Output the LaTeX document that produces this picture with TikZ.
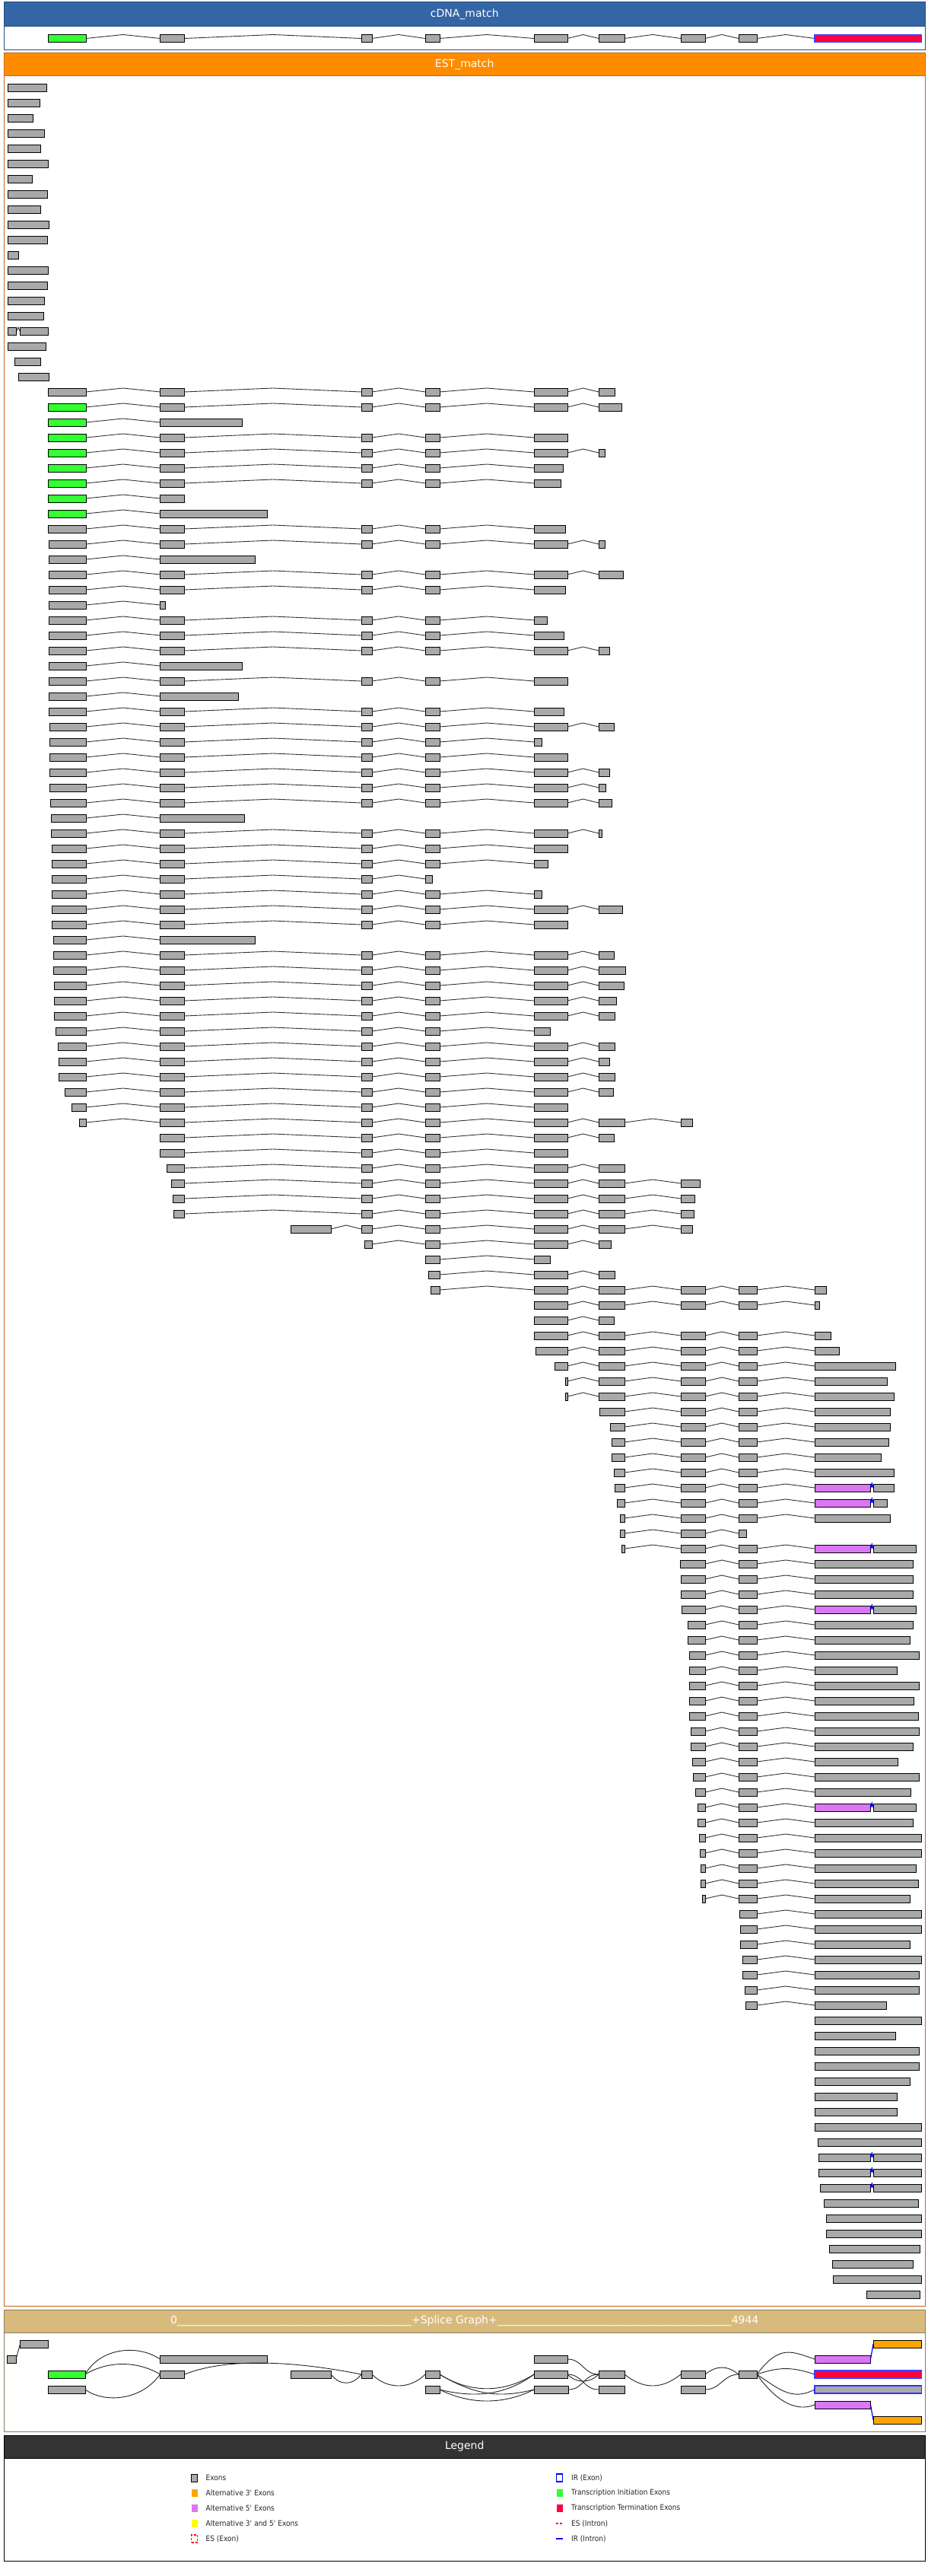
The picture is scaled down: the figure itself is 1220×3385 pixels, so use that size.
\documentclass[tikz,border=0pt]{standalone}
\usepackage{fontspec}
\setmainfont{DejaVu Sans}
\newfontfamily\legfont{DejaVu Sans}[FakeStretch=0.9]
\usetikzlibrary{calc}
\definecolor{exg}{HTML}{A9A9A9}
\definecolor{gsp}{HTML}{A9A9A9}
\definecolor{tie}{HTML}{33FF33}
\definecolor{tte}{HTML}{FF0040}
\definecolor{vio}{HTML}{DA77F2}
\definecolor{altthree}{HTML}{FFA500}
\definecolor{yel}{HTML}{FFFF00}
\definecolor{cdnahead}{HTML}{3465A4}
\definecolor{cdnaline}{HTML}{234F85}
\definecolor{esthead}{HTML}{FF8C00}
\definecolor{estline}{HTML}{C8651B}
\definecolor{sghead}{HTML}{D8BB7C}
\definecolor{sgline}{HTML}{8B7B66}
\definecolor{lghead}{HTML}{333333}
\definecolor{irblue}{HTML}{0000EE}
\def\vioname{vio}
\def\gspname{gsp}
\tikzset{
  exon/.style={rectangle, draw=black, line width=0.9pt, inner sep=0pt, outer sep=0pt, minimum height=10pt, anchor=west},
  intron/.style={draw=black!80, line width=0.9pt},
  irline/.style={draw=irblue, line width=1.8pt},
  sgcurve/.style={draw=black!85, line width=0.9pt},
  headbar/.style={rectangle, inner sep=0pt, minimum width=1211.5pt, text=white, font=\fontsize{14}{16}\selectfont, line width=1pt},
  panelbody/.style={rectangle, inner sep=0pt, minimum width=1211.5pt, fill=white, line width=1pt},
  legtext/.style={anchor=west, inner sep=0pt, font=\legfont\fontsize{10}{12}\selectfont, text=black!85},
  swatch/.style={rectangle, inner sep=0pt, minimum width=8pt, minimum height=10pt}
}
\newcommand\erow[3]{%
  \pgfmathsetmacro\ry{#2}%
  \foreach \xa/\xb/\xc [count=\k] in {#3} {%
    \pgfmathsetmacro\w{\xb-\xa}%
    \node[exon, fill=\xc, minimum width=\w pt] (#1e\k) at (\xa,\ry) {};%
    \ifnum\k>1
      \pgfmathtruncatemacro\km{\k-1}%
      \def\isblue{0}%
      \ifx\prevc\vioname\def\isblue{1}\fi
      \ifx\prevc\gspname\def\isblue{1}\fi
      \ifnum\isblue=1
        \draw[irline] (#1e\km.east) -- ($(#1e\km.east)!0.5!(#1e\k.west)+(0,-5)$) -- (#1e\k.west);%
      \else
        \draw[intron] (#1e\km.east) -- ($(#1e\km.east)!0.5!(#1e\k.west)+(0,-5)$) -- (#1e\k.west);%
      \fi
    \fi
    \xdef\prevc{\xc}%
  }%
}
\newcommand\er[2]{\erow{r#1}{115+20*#1}{#2}}
\begin{document}
\begin{tikzpicture}[x=1pt,y=-1pt]
\useasboundingbox (0,0) rectangle (1220,3385);
\fill[white] (0,0) rectangle (1220,3385);
% ---------- panels ----------
\node[panelbody, draw=cdnaline, minimum height=31pt] (cdnaB) at (610.75,50.5) {};
\node[headbar, fill=cdnahead, draw=cdnaline, minimum height=32pt] (cdnaH) at (610.75,19) {cDNA\_match};
\node[panelbody, draw=estline, minimum height=2930pt] (estB) at (610.75,1565) {};
\node[headbar, fill=esthead, draw=estline, minimum height=30pt] (estH) at (610.75,85) {EST\_match};
\node[panelbody, draw=sgline, minimum height=130pt] (sgB) at (610.75,3130) {};
\node[headbar, fill=sghead, draw=sgline, minimum height=30pt] (sgH) at (610.75,3050) {0\_\_\_\_\_\_\_\_\_\_\_\_\_\_\_\_\_\_\_\_\_\_\_\_\_\_\_\_\_\_\_\_\_\_\_\_\_\_\_\_\_\_\_\_+Splice Graph+\_\_\_\_\_\_\_\_\_\_\_\_\_\_\_\_\_\_\_\_\_\_\_\_\_\_\_\_\_\_\_\_\_\_\_\_\_\_\_\_\_\_\_\_4944};
\node[panelbody, draw=black, minimum height=135pt] (lgB) at (610.75,3297.5) {};
\node[headbar, fill=lghead, draw=black, minimum height=30pt] (lgH) at (610.75,3215) {Legend};
% ---------- cDNA ----------
\erow{c}{50.5}{63/113/tie,210.5/242.5/exg,475/489/exg,559/578/exg,702/746/exg,787/821/exg,895/927/exg,971/995/exg,1071/1211.5/tte}
\draw[draw=blue!75, line width=1.6pt] (ce9.south west) rectangle (ce9.north east);
% ---------- EST rows ----------
\er{0}{10/61.5/exg}
\er{1}{10/52.5/exg}
\er{2}{10/43.6/exg}
\er{3}{10/58.7/exg}
\er{4}{10/53.3/exg}
\er{5}{10/63.8/exg}
\er{6}{10/42.8/exg}
\er{7}{10/62.6/exg}
\er{8}{10/53.7/exg}
\er{9}{10/64.6/exg}
\er{10}{10/62.6/exg}
\er{11}{10/24.5/exg}
\er{12}{10/63.8/exg}
\er{13}{10/62.6/exg}
\er{14}{10/58.7/exg}
\er{15}{10/57.6/exg}
\er{16}{10/21.8/exg,26/63.8/exg}
\er{17}{10/60.7/exg}
\er{18}{19.8/53.7/exg}
\er{19}{24/64.6/exg}
\er{20}{63/113/exg,210.5/242.5/exg,475/489/exg,559/578/exg,702/746/exg,787/808/exg}
\er{21}{63/113/tie,210.5/242.5/exg,475/489/exg,559/578/exg,702/746/exg,787/817/exg}
\er{22}{63/113/tie,210.5/318/exg}
\er{23}{63/113/tie,210.5/242.5/exg,475/489/exg,559/578/exg,702/746/exg}
\er{24}{63/113/tie,210.5/242.5/exg,475/489/exg,559/578/exg,702/746/exg,787/795/exg}
\er{25}{63/113/tie,210.5/242.5/exg,475/489/exg,559/578/exg,702/740/exg}
\er{26}{63/113/tie,210.5/242.5/exg,475/489/exg,559/578/exg,702/737.5/exg}
\er{27}{63/113/tie,210.5/242.5/exg}
\er{28}{63/113/tie,210.5/351.6/exg}
\er{29}{63/113/exg,210.5/242.5/exg,475/489/exg,559/578/exg,702/743/exg}
\er{30}{64/113/exg,210.5/242.5/exg,475/489/exg,559/578/exg,702/746/exg,787/795/exg}
\er{31}{64/113/exg,210.5/335/exg}
\er{32}{64/113/exg,210.5/242.5/exg,475/489/exg,559/578/exg,702/746/exg,787/819/exg}
\er{33}{64/113/exg,210.5/242.5/exg,475/489/exg,559/578/exg,702/743/exg}
\er{34}{64/113/exg,210.5/217.5/exg}
\er{35}{64/113/exg,210.5/242.5/exg,475/489/exg,559/578/exg,702/719/exg}
\er{36}{64/113/exg,210.5/242.5/exg,475/489/exg,559/578/exg,702/741/exg}
\er{37}{64/113/exg,210.5/242.5/exg,475/489/exg,559/578/exg,702/746/exg,787/801/exg}
\er{38}{64/113/exg,210.5/318/exg}
\er{39}{64/113/exg,210.5/242.5/exg,475/489/exg,559/578/exg,702/746/exg}
\er{40}{64/113/exg,210.5/313/exg}
\er{41}{64/113/exg,210.5/242.5/exg,475/489/exg,559/578/exg,702/741/exg}
\er{42}{65.5/113/exg,210.5/242.5/exg,475/489/exg,559/578/exg,702/746/exg,787/807/exg}
\er{43}{65.5/113/exg,210.5/242.5/exg,475/489/exg,559/578/exg,702/712/exg}
\er{44}{65.5/113/exg,210.5/242.5/exg,475/489/exg,559/578/exg,702/746/exg}
\er{45}{65.5/113/exg,210.5/242.5/exg,475/489/exg,559/578/exg,702/746/exg,787/801/exg}
\er{46}{65.5/113/exg,210.5/242.5/exg,475/489/exg,559/578/exg,702/746/exg,787/796/exg}
\er{47}{66/113/exg,210.5/242.5/exg,475/489/exg,559/578/exg,702/746/exg,787/804/exg}
\er{48}{67/113/exg,210.5/321/exg}
\er{49}{67/113/exg,210.5/242.5/exg,475/489/exg,559/578/exg,702/746/exg,787/791/exg}
\er{50}{68/113/exg,210.5/242.5/exg,475/489/exg,559/578/exg,702/746/exg}
\er{51}{68/113/exg,210.5/242.5/exg,475/489/exg,559/578/exg,702/720/exg}
\er{52}{68/113/exg,210.5/242.5/exg,475/489/exg,559/568/exg}
\er{53}{68/113/exg,210.5/242.5/exg,475/489/exg,559/578/exg,702/712/exg}
\er{54}{68/113/exg,210.5/242.5/exg,475/489/exg,559/578/exg,702/746/exg,787/818/exg}
\er{55}{68.6/113/exg,210.5/242.5/exg,475/489/exg,559/578/exg,702/746/exg}
\er{56}{70/113/exg,210.5/335/exg}
\er{57}{70/113/exg,210.5/242.5/exg,475/489/exg,559/578/exg,702/746/exg,787/807/exg}
\er{58}{70/113/exg,210.5/242.5/exg,475/489/exg,559/578/exg,702/746/exg,787/822/exg}
\er{59}{71/113/exg,210.5/242.5/exg,475/489/exg,559/578/exg,702/746/exg,787/820/exg}
\er{60}{71/113/exg,210.5/242.5/exg,475/489/exg,559/578/exg,702/746/exg,787/810/exg}
\er{61}{71/113/exg,210.5/242.5/exg,475/489/exg,559/578/exg,702/746/exg,787/808/exg}
\er{62}{73/113/exg,210.5/242.5/exg,475/489/exg,559/578/exg,702/723/exg}
\er{63}{76/113/exg,210.5/242.5/exg,475/489/exg,559/578/exg,702/746/exg,787/808/exg}
\er{64}{77/113/exg,210.5/242.5/exg,475/489/exg,559/578/exg,702/746/exg,787/801/exg}
\er{65}{77/113/exg,210.5/242.5/exg,475/489/exg,559/578/exg,702/746/exg,787/808/exg}
\er{66}{85/113/exg,210.5/242.5/exg,475/489/exg,559/578/exg,702/746/exg,787/806/exg}
\er{67}{94/113/exg,210.5/242.5/exg,475/489/exg,559/578/exg,702/746/exg}
\er{68}{104.5/113/exg,210.5/242.5/exg,475/489/exg,559/578/exg,702/746/exg,787/821/exg,895/910/exg}
\er{69}{210.5/242.5/exg,475/489/exg,559/578/exg,702/746/exg,787/807/exg}
\er{70}{210.5/242.5/exg,475/489/exg,559/578/exg,702/746/exg}
\er{71}{219/242.5/exg,475/489/exg,559/578/exg,702/746/exg,787/821/exg}
\er{72}{225/242.5/exg,475/489/exg,559/578/exg,702/746/exg,787/821/exg,895/920/exg}
\er{73}{227/242.5/exg,475/489/exg,559/578/exg,702/746/exg,787/821/exg,895/913/exg}
\er{74}{228.5/242.5/exg,475/489/exg,559/578/exg,702/746/exg,787/821/exg,895/912/exg}
\er{75}{382/435/exg,475/489/exg,559/578/exg,702/746/exg,787/821/exg,895/910/exg}
\er{76}{479/489/exg,559/578/exg,702/746/exg,787/803/exg}
\er{77}{559/578/exg,702/723/exg}
\er{78}{563/578/exg,702/746/exg,787/808/exg}
\er{79}{566/578/exg,702/746/exg,787/821/exg,895/927/exg,971/995/exg,1071/1086/exg}
\er{80}{702/746/exg,787/821/exg,895/927/exg,971/995/exg,1071/1077/exg}
\er{81}{702/746/exg,787/807/exg}
\er{82}{702/746/exg,787/821/exg,895/927/exg,971/995/exg,1071/1092/exg}
\er{83}{704/746/exg,787/821/exg,895/927/exg,971/995/exg,1071/1103/exg}
\er{84}{729/746/exg,787/821/exg,895/927/exg,971/995/exg,1071/1177/exg}
\er{85}{743/746/exg,787/821/exg,895/927/exg,971/995/exg,1071/1166/exg}
\er{86}{743/746/exg,787/821/exg,895/927/exg,971/995/exg,1071/1175/exg}
\er{87}{788/821/exg,895/927/exg,971/995/exg,1071/1170/exg}
\er{88}{802/821/exg,895/927/exg,971/995/exg,1071/1170/exg}
\er{89}{804/821/exg,895/927/exg,971/995/exg,1071/1168/exg}
\er{90}{804.5/821/exg,895/927/exg,971/995/exg,1071/1158/exg}
\er{91}{807.7/821/exg,895/927/exg,971/995/exg,1071/1175/exg}
\er{92}{808.5/821/exg,895/927/exg,971/995/exg,1071/1144.5/vio,1148/1175/exg}
\er{93}{811.6/821/exg,895/927/exg,971/995/exg,1071/1144.5/vio,1148/1166/exg}
\er{94}{815.5/821/exg,895/927/exg,971/995/exg,1071/1170/exg}
\er{95}{815.5/821/exg,895/927/exg,971/981/exg}
\er{96}{817/821/exg,895/927/exg,971/995/exg,1071/1144.5/vio,1148/1204/exg}
\er{97}{894/927/exg,971/995/exg,1071/1200/exg}
\er{98}{895/927/exg,971/995/exg,1071/1200/exg}
\er{99}{895/927/exg,971/995/exg,1071/1200/exg}
\er{100}{896.5/927/exg,971/995/exg,1071/1144.5/vio,1148/1204/exg}
\er{101}{904/927/exg,971/995/exg,1071/1200/exg}
\er{102}{904/927/exg,971/995/exg,1071/1196/exg}
\er{103}{906/927/exg,971/995/exg,1071/1208/exg}
\er{104}{906/927/exg,971/995/exg,1071/1179.5/exg}
\er{105}{906.7/927/exg,971/995/exg,1071/1208/exg}
\er{106}{906.7/927/exg,971/995/exg,1071/1201/exg}
\er{107}{906.7/927/exg,971/995/exg,1071/1207/exg}
\er{108}{908/927/exg,971/995/exg,1071/1208/exg}
\er{109}{908/927/exg,971/995/exg,1071/1200/exg}
\er{110}{910/927/exg,971/995/exg,1071/1180/exg}
\er{111}{911/927/exg,971/995/exg,1071/1208/exg}
\er{112}{914.5/927/exg,971/995/exg,1071/1197/exg}
\er{113}{917.6/927/exg,971/995/exg,1071/1144.5/vio,1148/1204/exg}
\er{114}{917.6/927/exg,971/995/exg,1071/1200/exg}
\er{115}{919/927/exg,971/995/exg,1071/1211.5/exg}
\er{116}{920/927/exg,971/995/exg,1071/1211.5/exg}
\er{117}{921/927/exg,971/995/exg,1071/1204.5/exg}
\er{118}{921.5/927/exg,971/995/exg,1071/1207.6/exg}
\er{119}{923/927/exg,971/995/exg,1071/1196.7/exg}
\er{120}{972/995/exg,1071/1211.5/exg}
\er{121}{973/995/exg,1071/1211.5/exg}
\er{122}{973/995/exg,1071/1196/exg}
\er{123}{976/995/exg,1071/1211/exg}
\er{124}{976/995/exg,1071/1208/exg}
\er{125}{979/995/exg,1071/1208/exg}
\er{126}{980/995/exg,1071/1165.5/exg}
\er{127}{1071/1211.5/exg}
\er{128}{1071/1177/exg}
\er{129}{1071/1208/exg}
\er{130}{1071/1208/exg}
\er{131}{1071/1196/exg}
\er{132}{1071/1179.5/exg}
\er{133}{1071/1179/exg}
\er{134}{1071/1211.5/exg}
\er{135}{1075/1211.5/exg}
\er{136}{1076/1144.5/gsp,1148/1211.5/exg}
\er{137}{1076/1144.5/gsp,1148/1211.5/exg}
\er{138}{1078/1144.5/gsp,1148/1211.5/exg}
\er{139}{1083/1207/exg}
\er{140}{1086/1211.5/exg}
\er{141}{1086/1211.5/exg}
\er{142}{1090/1209/exg}
\er{143}{1094.5/1200.6/exg}
\er{144}{1095/1211.5/exg}
\er{145}{1139/1209/exg}
% ---------- splice graph ----------
\node[exon, fill=exg, minimum width=11.6pt] (s1) at (9.4,3100) {};
\node[exon, fill=exg, minimum width=36.5pt] (s2) at (26.5,3080) {};
\node[exon, fill=tie, minimum width=49pt] (s3) at (63,3120) {};
\node[exon, fill=exg, minimum width=49pt] (s4) at (63,3140) {};
\node[exon, fill=exg, minimum width=141pt] (s5) at (210.5,3100) {};
\node[exon, fill=exg, minimum width=32pt] (s6) at (210.5,3120) {};
\node[exon, fill=exg, minimum width=53pt] (s7) at (382,3120) {};
\node[exon, fill=exg, minimum width=14pt] (s8) at (475,3120) {};
\node[exon, fill=exg, minimum width=19pt] (s9) at (559,3120) {};
\node[exon, fill=exg, minimum width=19pt] (s10) at (559,3140) {};
\node[exon, fill=exg, minimum width=44pt] (s11) at (702,3100) {};
\node[exon, fill=exg, minimum width=44pt] (s12) at (702,3120) {};
\node[exon, fill=exg, minimum width=45pt] (s13) at (702,3140) {};
\node[exon, fill=exg, minimum width=34pt] (s14) at (787,3120) {};
\node[exon, fill=exg, minimum width=34pt] (s15) at (787,3140) {};
\node[exon, fill=exg, minimum width=32pt] (s16) at (895,3120) {};
\node[exon, fill=exg, minimum width=32pt] (s17) at (895,3140) {};
\node[exon, fill=exg, minimum width=24pt] (s18) at (971,3120) {};
\node[exon, fill=vio, minimum width=73.5pt] (s19) at (1071,3100) {};
\node[exon, fill=altthree, minimum width=63.5pt] (s20) at (1148,3080) {};
\node[exon, fill=tte, minimum width=140.5pt] (s21) at (1071,3120) {};
\draw[draw=blue!75, line width=1.6pt] (s21.south west) rectangle (s21.north east);
\node[exon, fill=exg, draw=blue!80, line width=1.6pt, minimum width=140.5pt] (s22) at (1071,3140) {};
\node[exon, fill=vio, minimum width=73.5pt] (s23) at (1071,3160) {};
\node[exon, fill=altthree, minimum width=63.5pt] (s24) at (1148,3180) {};
\draw[sgcurve] (s1.east) -- (s2.west);
\draw[sgcurve] (s3.east) .. controls +(20,-35) and +(-30,-20) .. (s5.west);
\draw[sgcurve] (s3.east) .. controls +(30,-18) and +(-30,-18) .. (s6.west);
\draw[sgcurve] (s4.east) .. controls +(25,18) and +(-25,35) .. (s6.west);
\draw[sgcurve] (s6.east) .. controls +(50,-20) and +(-100,-20) .. (s8.west);
\draw[sgcurve] (s7.east) .. controls +(12,15) and +(-12,15) .. (s8.west);
\draw[sgcurve] (s8.east) .. controls +(20,20) and +(-20,20) .. (s9.west);
\draw[sgcurve] (s9.east) .. controls +(40,25) and +(-40,25) .. (s12.west);
\draw[sgcurve] (s9.east) .. controls +(50,30) and +(-40,10) .. (s13.west);
\draw[sgcurve] (s10.east) .. controls +(40,10) and +(-40,30) .. (s12.west);
\draw[sgcurve] (s10.east) .. controls +(40,20) and +(-40,20) .. (s13.west);
\draw[sgcurve] (s11.east) .. controls +(20,0) and +(-20,0) .. (s14.west);
\draw[sgcurve] (s12.east) .. controls +(12,12) and +(-12,12) .. (s14.west);
\draw[sgcurve] (s12.east) .. controls +(20,0) and +(-20,0) .. (s15.west);
\draw[sgcurve] (s13.east) .. controls +(20,0) and +(-20,0) .. (s14.west);
\draw[sgcurve] (s14.east) .. controls +(25,20) and +(-25,20) .. (s16.west);
\draw[sgcurve] (s16.east) .. controls +(15,-12) and +(-15,-12) .. (s18.west);
\draw[sgcurve] (s17.east) .. controls +(20,0) and +(-20,0) .. (s18.west);
\draw[sgcurve] (s18.east) .. controls +(30,-40) and +(-30,-10) .. (s19.west);
\draw[sgcurve] (s18.east) .. controls +(30,-10) and +(-30,-10) .. (s21.west);
\draw[sgcurve] (s18.east) .. controls +(30,20) and +(-30,15) .. (s22.west);
\draw[sgcurve] (s18.east) .. controls +(25,35) and +(-25,10) .. (s23.west);
\draw[irline, line width=1.2pt] (s19.east) -- (s20.west);
\draw[irline, line width=1.2pt] (s23.east) -- (s24.west);
% ---------- legend ----------
\node[swatch, fill=exg, draw=black, line width=1pt] (lg1) at (255.5,3256) {};
\node[legtext] (lt1) at (270.5,3256) {Exons};
\node[swatch, fill=altthree] (lg2) at (255.5,3276) {};
\node[legtext] (lt2) at (270.5,3276) {Alternative 3\textquotesingle{} Exons};
\node[swatch, fill=vio] (lg3) at (255.5,3296) {};
\node[legtext] (lt3) at (270.5,3296) {Alternative 5\textquotesingle{} Exons};
\node[swatch, fill=yel] (lg4) at (255.5,3316) {};
\node[legtext] (lt4) at (270.5,3316) {Alternative 3\textquotesingle{} and 5\textquotesingle{} Exons};
\node[swatch, fill=white, draw=red, densely dashed, line width=1.2pt] (lg5) at (255.5,3336) {};
\node[legtext] (lt5) at (270.5,3336) {ES (Exon)};
\node[swatch, fill=white, draw=irblue, line width=1.6pt] (lg6) at (735.5,3256) {};
\node[legtext] (lt6) at (751,3256) {IR (Exon)};
\node[swatch, fill=tie] (lg7) at (735.5,3276) {};
\node[legtext] (lt7) at (751,3276) {Transcription Initiation Exons};
\node[swatch, fill=tte] (lg8) at (735.5,3296) {};
\node[legtext] (lt8) at (751,3296) {Transcription Termination Exons};
\coordinate (lg9a) at (731,3316);
\coordinate (lg9b) at (740,3316);
\draw[draw=red, line width=1.6pt, dash pattern=on 3pt off 2pt] (lg9a) -- (lg9b);
\node[legtext] (lt9) at (751,3316) {ES (Intron)};
\coordinate (lg10a) at (731,3336);
\coordinate (lg10b) at (740,3336);
\draw[draw=irblue, line width=1.8pt] (lg10a) -- (lg10b);
\node[legtext] (lt10) at (751,3336) {IR (Intron)};
\end{tikzpicture}
\end{document}
